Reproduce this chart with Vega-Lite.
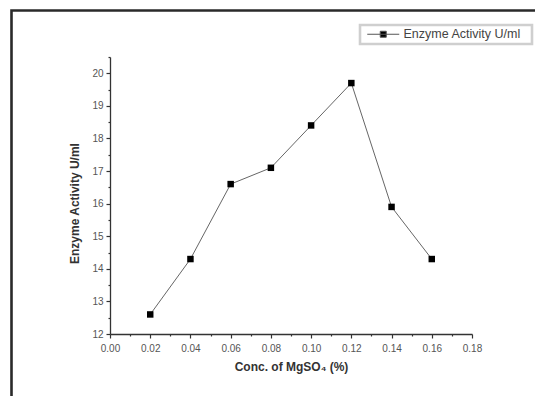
{
  "$schema": "https://vega.github.io/schema/vega-lite/v6.json",
  "width": 362,
  "height": 277,
  "autosize": {"type": "none"},
  "padding": {"left": 110, "top": 57, "right": 63, "bottom": 62},
  "background": "white",
  "config": {"view": {"stroke": null}, "font": "Liberation Sans", "legend": {"strokeWidth": 2.6}},
  "data": {
    "values": [
      {"conc": 0.02, "activity": 12.6, "series": "Enzyme Activity U/ml"},
      {"conc": 0.04, "activity": 14.3, "series": "Enzyme Activity U/ml"},
      {"conc": 0.06, "activity": 16.6, "series": "Enzyme Activity U/ml"},
      {"conc": 0.08, "activity": 17.1, "series": "Enzyme Activity U/ml"},
      {"conc": 0.10, "activity": 18.4, "series": "Enzyme Activity U/ml"},
      {"conc": 0.12, "activity": 19.7, "series": "Enzyme Activity U/ml"},
      {"conc": 0.14, "activity": 15.9, "series": "Enzyme Activity U/ml"},
      {"conc": 0.16, "activity": 14.3, "series": "Enzyme Activity U/ml"}
    ]
  },
  "encoding": {
    "x": {
      "field": "conc",
      "type": "quantitative",
      "scale": {"domain": [0, 0.18], "nice": false, "zero": false},
      "axis": {
        "title": "Conc. of MgSO₄ (%)",
        "values": [0, 0.01, 0.02, 0.03, 0.04, 0.05, 0.06, 0.07, 0.08, 0.09, 0.1, 0.11, 0.12, 0.13, 0.14, 0.15, 0.16, 0.17, 0.18],
        "labelExpr": "round(datum.value*100) % 2 == 0 ? format(datum.value, '.2f') : ''",
        "tickSize": {"condition": {"test": "round(datum.value*100) % 2 == 1", "value": 2}, "value": 4},
        "labelOverlap": false,
        "labelFlush": false,
        "grid": false,
        "domainColor": "#333",
        "domainWidth": 1.3,
        "tickColor": "#333",
        "tickWidth": 1.2,
        "labelFont": "Liberation Sans",
        "labelFontSize": 10,
        "labelColor": "#555",
        "labelPadding": 5,
        "titleFont": "Liberation Sans",
        "titleFontSize": 12,
        "titleFontWeight": "bold",
        "titleColor": "#333",
        "titlePadding": 8
      }
    },
    "y": {
      "field": "activity",
      "type": "quantitative",
      "scale": {"domain": [12, 20.5], "nice": false, "zero": false},
      "axis": {
        "title": "Enzyme Activity U/ml",
        "values": [12, 12.5, 13, 13.5, 14, 14.5, 15, 15.5, 16, 16.5, 17, 17.5, 18, 18.5, 19, 19.5, 20, 20.5],
        "labelExpr": "datum.value % 1 == 0 ? format(datum.value, 'd') : ''",
        "tickSize": {"condition": {"test": "datum.value % 1 != 0", "value": 2}, "value": 4},
        "labelOverlap": false,
        "labelFlush": false,
        "grid": false,
        "domainColor": "#333",
        "domainWidth": 1.3,
        "tickColor": "#333",
        "tickWidth": 1.2,
        "labelFont": "Liberation Sans",
        "labelFontSize": 10,
        "labelColor": "#555",
        "labelPadding": 3,
        "titleFont": "Liberation Sans",
        "titleFontSize": 12,
        "titleFontWeight": "bold",
        "titleColor": "#333",
        "titlePadding": 10,
        "titleY": 146
      }
    }
  },
  "layer": [
    {
      "mark": {"type": "line", "color": "#666", "strokeWidth": 1},
      "encoding": {
        "opacity": {
          "datum": "frame",
          "type": "nominal",
          "scale": {"range": [1]},
          "legend": {
            "orient": "none",
            "legendX": -98.5,
            "legendY": -46.5,
            "title": null,
            "padding": 600,
            "strokeColor": "#2a2a2a",
            "fillColor": null,
            "labelFontSize": 1,
            "labelOpacity": 0,
            "labelExpr": "''",
            "symbolSize": 1,
            "symbolOpacity": 0
          }
        }
      }
    },
    {
      "mark": {"type": "square", "size": 42, "opacity": 1},
      "encoding": {
        "color": {
          "field": "series",
          "type": "nominal",
          "scale": {"range": ["#000000"]},
          "legend": {
            "orient": "none",
            "legendX": 250,
            "legendY": -32,
            "title": " ",
            "titleOrient": "right",
            "titlePadding": 8,
            "padding": 3,
            "strokeColor": "#cfcfcf",
            "fillColor": "white",
            "symbolType": "M-0.4,0H6M2.2,-0.6H3.4V0.6H2.2Z",
            "symbolSize": 100,
            "symbolStrokeColor": "#555",
            "symbolStrokeWidth": 1,
            "labelOffset": 28,
            "labelFont": "Liberation Sans",
            "labelFontSize": 12.5,
            "labelColor": "#444",
            "encode": {
              "symbols": {
                "stroke": {"value": "#555"},
                "strokeWidth": {"value": 1},
                "fill": {"value": "#000"},
                "opacity": {"value": 1}
              }
            }
          }
        }
      }
    }
  ]
}
